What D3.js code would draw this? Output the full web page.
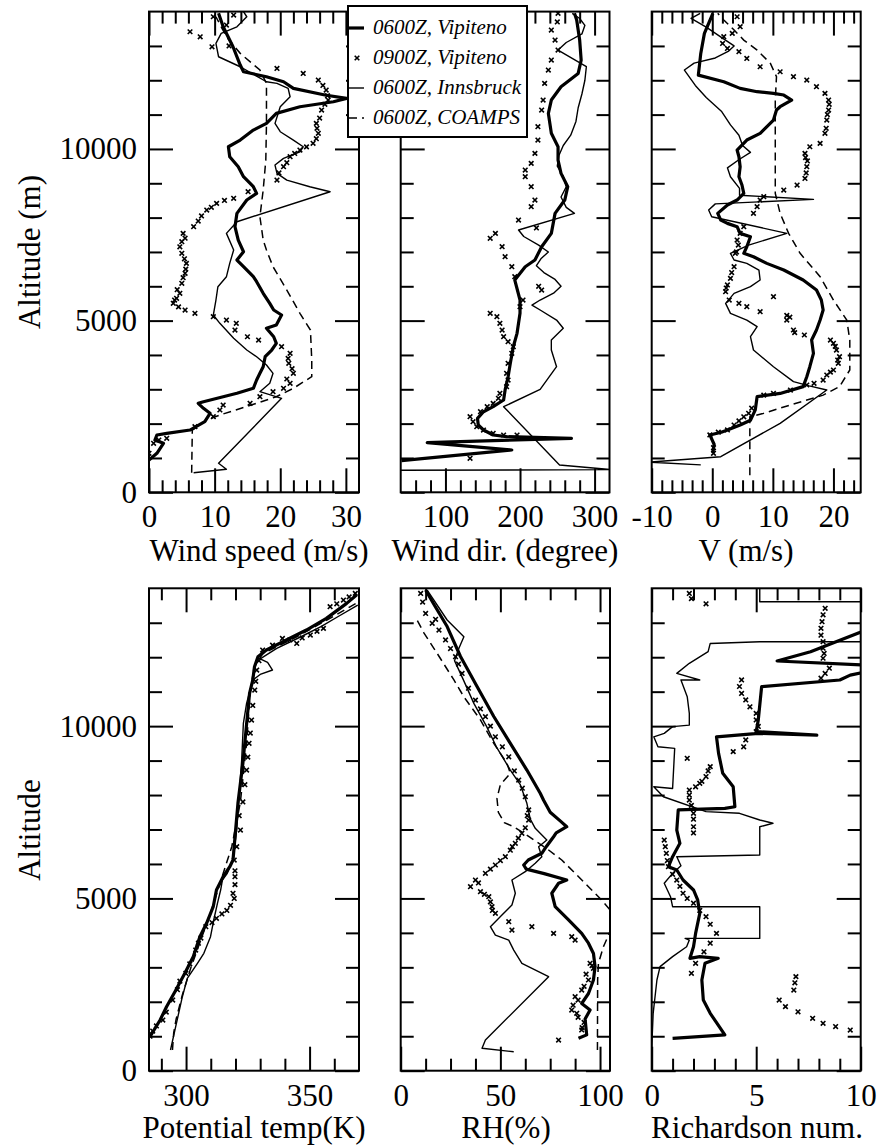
<!DOCTYPE html>
<html><head><meta charset="utf-8">
<script src="https://cdn.jsdelivr.net/npm/d3@7"></script>
<style>
html,body{margin:0;padding:0;background:#fff;}
svg{display:block;}
svg text{font-family:'Liberation Serif','Times New Roman',Times,serif;}
</style></head><body>
<svg id="chart" width="880" height="1148"></svg>
<script>
// ---------- tick labels ----------
const altMajor = [0, 5000, 10000];
const altMinor = [1000,2000,3000,4000,6000,7000,8000,9000,11000,12000,13000];
const altLabels = ["0", "5000", "10000"];
const wsTicks = [0,10,20,30];        const wsLabels = ["0","10","20","30"];
const wdTicks = [100,200,300];       const wdLabels = ["100","200","300"];
const vTicks = [-10,0,10,20];        const vLabels = ["-10","0","10","20"];
const thTicks = [300,350];           const thLabels = ["300","350"];
const rhTicks = [0,50,100];          const rhLabels = ["0","50","100"];
const riTicks = [0,5,10];            const riLabels = ["0","5","10"];
const legendLabels = ["0600Z, Vipiteno","0900Z, Vipiteno","0600Z, Innsbruck","0600Z, COAMPS"];

// ---------- data: [value, altitude(m)] ----------
// Wind speed (m/s)
const wsVip06 = [[0,940],[1.2,1135],[2.2,1427],[0.9,1523],[1.2,1668],[2.7,1718],[6.25,1814],[7.3,1930],[8.5,2056],[9.3,2300],[8.3,2446],[7.5,2592],[8.3,2638],[13.4,2883],[15.9,3029],[16.4,3270],[16.9,3465],[17.4,3658],[17.7,3949],[18.7,4144],[19.4,4339],[19,4531],[17.9,4776],[19.4,4872],[20.2,5163],[19,5309],[18.4,5504],[17.4,5795],[16.4,6133],[15.9,6279],[14.4,6570],[13.4,6765],[14.4,7006],[13.6,7347],[13.1,7735],[13.4,8124],[14.9,8512],[16.4,8707],[15.9,8900],[14.4,9191],[13.6,9482],[12.3,9773],[12.1,10064],[13.9,10259],[15.9,10550],[17.9,10745],[19.4,11036],[23,11230],[28.1,11375],[30.1,11472],[26.8,11570],[22,11764],[20.5,11957],[17.9,12103],[14.4,12248],[13.9,12443],[12.8,12976],[11.3,13558],[10.6,13950]];
const wsVip09 = [[0,1135],[0.7,1427],[1.5,1523],[2.7,1571],[7,1911],[9.8,2202],[10.8,2397],[11.3,2542],[15.4,2592],[16.9,2784],[18.9,2930],[20.5,3029],[21.5,3174],[21,3300],[22,3465],[21.8,3600],[21.3,3757],[21.2,3900],[21.5,4048],[20.2,4240],[16.7,4435],[15,4530],[13.1,4726],[13.3,4921],[11.8,5017],[9.8,5114],[7,5212],[5.5,5309],[4.5,5400],[3.7,5504],[3.9,5600],[4.2,5650],[4.7,5795],[4.3,5900],[5,6086],[5.2,6250],[5.5,6377],[5.6,6500],[5.7,6667],[5.4,6800],[5,6960],[4.7,7150],[5,7300],[5.5,7400],[5.2,7541],[6.8,7735],[7.5,7900],[8,8050],[8.8,8221],[9.5,8300],[10.3,8415],[11.5,8500],[12.9,8561],[15.1,8754],[19.5,9094],[19.8,9300],[20.5,9482],[21,9600],[21.5,9773],[22.2,9870],[23,9968],[24,10060],[25,10163],[25.5,10300],[25.8,10455],[25.6,10600],[25.5,10745],[26,10900],[26.3,11133],[26.8,11300],[27.3,11424],[27.2,11550],[27,11715],[26.5,11850],[25.8,12006],[23.5,12200],[19.5,12346],[9.6,12976],[12.2,13000],[7.8,13267],[6.25,13413],[11.8,13607],[9.8,13850],[12.9,13900]];
const wsInn06 = [[6.8,571],[11.8,670],[10.6,845],[20.2,2737],[16.9,2930],[18.4,3174],[18.9,3465],[17.9,3707],[16.4,3949],[14.9,4144],[12.9,4484],[10.8,4921],[9.8,5163],[10.2,5600],[10.5,5988],[11.8,6279],[12.3,6667],[12.9,7056],[11.8,7541],[13.4,7880],[27.6,8754],[24.5,8900],[21,9094],[19.5,9289],[19.2,9531],[20.5,9726],[23,9918],[23.5,10064],[22,10259],[20,10501],[19.2,10745],[20,11230],[21.5,11521],[21.2,11764],[19.5,11910],[17.9,11957],[13.9,12394],[10.6,12685],[10.2,13073],[11,13364],[13.4,13558],[14.9,13850],[14.4,14000]];
const wsCoamps = [[6.5,571],[6.6,1814],[8.8,2105],[10.8,2251],[16.4,2592],[19.4,2784],[22,3029],[24.8,3367],[24.8,3853],[24.6,4726],[23,5212],[21,5891],[18.9,6570],[17.9,7056],[17.4,7347],[16.9,8026],[17.4,8803],[17.8,9677],[17.9,10745],[17.9,11910],[16.9,12298],[13.9,12784],[11.8,13267],[10.2,13850]];

// Wind direction (degree)
const wdVip06 = [[41,920],[189,1232],[75.6,1444],[269,1573],[182,1620],[164,1669],[151,1814],[144,1960],[143,2155],[151,2347],[164,2493],[178,2688],[180,2979],[184,3366],[187,3757],[191,4240],[196,4630],[200,5212],[200,5600],[193,6182],[207,6570],[220,6765],[229,7152],[242,7541],[247,8124],[260,8512],[264,8900],[255,9289],[251,9677],[251,10064],[242,10455],[238,11036],[242,11424],[255,11811],[278,12200],[282,12589],[280,13171],[276,13754],[273,13950]];
const wdVip09 = [[133,990],[196,1669],[178,1669],[164,1718],[151,1814],[142,1911],[137,2056],[133,2202],[147,2347],[156,2493],[164,2590],[171,2737],[173,2883],[182,3076],[184,3270],[182,3465],[184,3757],[189,4048],[191,4240],[184,4386],[178,4531],[176,4726],[173,4921],[169,5114],[160,5212],[200,5406],[204,5600],[229,5891],[225,6000],[193,6279],[189,6570],[180,6861],[176,7152],[160,7397],[167,7541],[222,7700],[198,7929],[215,8318],[220,8512],[215,8900],[207,9191],[207,9386],[215,9580],[220,9871],[224,10259],[224,10648],[229,11133],[231,11424],[233,11910],[238,12298],[242,12589],[251,12880],[247,13171],[242,13462],[250,13700],[251,13950]];
const wdInn06 = [[20,640],[322,660],[253,795],[178,2493],[227,2999],[249,3658],[242,4144],[242,4435],[258,4776],[249,5017],[227,5309],[216,5454],[227,5600],[245,5800],[255,6000],[247,6200],[232,6400],[222,6600],[228,6800],[238,7000],[225,7200],[205,7450],[198,7640],[273,8124],[262,8300],[255,8600],[262,8900],[258,9200],[250,9500],[252,9800],[258,10100],[268,10400],[275,10800],[278,11200],[283,11600],[287,12000],[289,12400],[251,12880],[262,13100],[283,13350],[287,13600],[280,13800],[270,13950]];

// V (m/s)
const vVip06 = [[0.1,1135],[0.3,1400],[-0.4,1670],[1.5,1750],[2.5,1815],[4.6,1960],[6.3,2100],[7.1,2400],[7.4,2785],[11.2,2880],[15,3077],[15.6,3367],[16.1,3658],[16.7,4047],[16.4,4435],[17.2,4727],[17.8,5017],[18.3,5309],[18,5600],[17.2,5891],[15,6182],[11.8,6473],[9,6667],[6.8,6861],[5.2,6960],[5.7,7152],[6.3,7444],[4.6,7541],[4.1,7735],[2.5,7832],[1.4,7929],[0.9,8124],[2.5,8367],[4.1,8512],[5.2,8707],[4.9,8949],[4.4,9191],[4.6,9482],[4.4,9773],[4.1,9968],[5.7,10259],[7.9,10455],[10.1,10841],[10.6,11133],[11.2,11230],[13.1,11424],[11.8,11570],[10.1,11618],[7.4,11667],[4.6,11764],[1.9,11957],[-2.3,12151],[-1.9,12782],[-1.3,13366],[0.1,13950]];
const vVip09 = [[0.2,1135],[0.2,1300],[-0.4,1670],[1,1750],[2.5,1815],[3.6,1960],[4.4,2080],[5.2,2200],[6,2300],[6.5,2450],[8.5,2830],[10.1,2880],[12.9,2979],[15.6,3125],[16.8,3174],[18.3,3270],[18.9,3416],[19.5,3500],[20,3562],[20.8,3757],[20.7,3850],[21,3950],[20.5,4144],[20.3,4250],[20,4338],[19.5,4435],[15.2,4581],[13.6,4650],[13.4,4727],[12.3,5017],[12.8,5100],[12.3,5150],[7.9,5260],[5.7,5406],[4.4,5503],[2.8,5600],[10.1,5697],[2.2,5843],[2.3,5950],[2.5,6040],[3,6230],[3.2,6400],[3.6,6570],[3.8,6960],[4,7000],[4.3,7200],[4.1,7347],[4.6,7541],[5.2,7735],[6.8,8124],[7.4,8318],[7.9,8512],[8.5,8610],[11.8,8803],[14,8949],[15.3,9142],[15.5,9300],[15.6,9482],[15.7,9650],[15.4,9750],[15.3,9871],[16.1,10064],[17.8,10162],[18.6,10455],[18.8,10600],[18.9,10841],[19,11000],[19.2,11133],[19.3,11300],[19.2,11424],[18.6,11618],[17.2,11813],[15.6,12006],[13.4,12103],[11.2,12248],[7.9,12394],[5.7,12637],[4.4,12832],[2.5,12928],[1.7,13074],[1.9,13268],[3.3,13366],[4.6,13560],[4.1,13850]];
const vInn06 = [[-1.9,800],[-10.5,878],[1.4,1037],[11.2,2008],[18.9,2979],[16,3100],[13.4,3222],[10.1,3658],[6.8,4144],[6.3,4532],[7.4,4824],[5.7,5017],[3,5212],[2.2,5503],[3.6,5794],[6.3,5988],[7.9,6182],[7.7,6473],[5.7,6667],[3.6,6765],[3,6960],[6,7200],[12.3,7541],[-0.1,8026],[-0.6,8221],[0.5,8400],[16.7,8532],[4.5,8650],[4.5,8850],[3,9191],[2.5,9450],[4.5,9700],[6.3,9900],[5,10100],[4.4,10400],[3,10700],[1.5,11100],[-1,11500],[-2.8,11850],[-4.6,12298],[-3,12500],[0.5,12650],[2.7,12850],[3.6,13000],[1.5,13250],[-1,13550],[-3.5,13800],[-2,13950]];
const vCoamps = [[6.2,500],[6.2,2200],[8.5,2300],[12.9,2545],[18.3,2830],[21,3077],[22.7,3562],[22.7,4435],[22.2,5017],[20,5600],[17.8,6280],[14.5,6960],[12.6,7541],[11.2,8124],[10.4,8707],[10.4,9968],[10.4,11424],[10.6,12103],[9.6,12491],[7.4,12880],[5.2,13171],[3.6,13462],[1.9,13754],[0.9,13950]];

// Potential temperature (K)
const thVip06 = [[285.4,987],[289.5,1471],[292.1,1857],[295.5,2292],[299.5,2826],[302.9,3308],[305.6,3889],[308.3,4277],[311,4759],[312.3,5244],[315,5630],[317.7,5920],[319,6114],[321,7760],[323,8921],[324.4,9983],[325.7,10952],[327,11338],[327.7,11724],[329.1,12014],[332.5,12208],[339.2,12449],[348.7,12789],[356.8,13128],[365,13563],[369,13804]];
const thVip09 = [[285.4,1000],[286.5,1150],[288,1300],[290.6,1471],[292,1700],[294.6,2050],[296.5,2350],[297.5,2600],[299.9,2826],[301.5,3100],[303.9,3500],[305,3700],[306,3850],[308,4180],[310.5,4300],[312.3,4422],[314.5,4550],[316.5,4650],[318,4800],[319.5,5000],[319,5148],[319.8,5400],[319.8,5630],[319.8,5800],[319.5,6114],[320.5,6500],[322,6985],[321.5,7400],[323,7800],[323.8,8300],[324.5,8726],[325,9100],[325.5,9500],[326,9800],[326.5,10177],[327,10600],[327.8,11048],[328.2,11300],[328.6,11628],[329.5,11900],[331,12208],[335,12350],[344.8,12401],[342,12500],[339,12546],[347,12560],[350.3,12643],[353,12750],[355.6,12837],[358.3,13466],[361,13550],[363.7,13660],[366,13750],[368.5,13853]];
const thInn06 = [[293.7,601],[295.8,1277],[298.5,2147],[300.5,2681],[304.6,3117],[307.2,3407],[309.9,3889],[311.2,4373],[312.7,4858],[314,5244],[314.7,5534],[316.7,5728],[319,6114],[320.5,7000],[321.5,8000],[322.5,9000],[323.2,10081],[324.5,10662],[327,11338],[330,11500],[335,11628],[333,11850],[330,11950],[336.7,12257],[346.5,12594],[354.6,12885],[361.4,13175],[369.5,13514]];
const thCoamps = [[294.5,600],[295,1100],[296,1500],[298.5,2200],[302,3000],[306,3800],[310,4600],[314,5500],[318.5,6500],[322,7800],[324.5,9500],[326,11000],[327.5,11700],[331,12100],[345,12600],[360,13200],[371,13650]];

// Relative humidity (%)
const rhVip06 = [[89.2,940],[93.3,1040],[92.5,1500],[95,1760],[90.8,1950],[94.2,2240],[96.7,2632],[97.5,3020],[96.7,3400],[94.2,3700],[90.8,3985],[84.2,4375],[77.5,4760],[75.8,5150],[79.2,5440],[83.3,5534],[72,5720],[63,5850],[61.7,5970],[64,6115],[70.8,6310],[73,6500],[76.7,6790],[78,6900],[83.3,7080],[80,7250],[75,7500],[71.7,7850],[70,8050],[63.3,8725],[55,9500],[46.7,10280],[38.3,11150],[30,12020],[23.3,12890],[17,13500],[12.5,13950]];
const rhVip09 = [[79.2,890],[90.8,1181],[91,1250],[92,1400],[89,1550],[88.3,1665],[85.8,1760],[86.5,1900],[89,2050],[87.5,2147],[90.8,2340],[92,2450],[94.2,2632],[93,2800],[96.7,2970],[96,3050],[95,3117],[87.5,3790],[85.8,3890],[76.7,3985],[65.8,4180],[55.8,4083],[54.2,4325],[47.5,4568],[46,4650],[45.8,4760],[45,4900],[44.2,5049],[42,5120],[40,5195],[35,5340],[39,5450],[37.5,5534],[42.5,5728],[45,5850],[47.5,5970],[50,6100],[52.5,6210],[55,6400],[56,6500],[57.5,6600],[59,6750],[60.8,6890],[62.5,7050],[64.2,7275],[63.5,7400],[64.2,7570],[62.5,7951],[61,8200],[59.2,8436],[57,8700],[54.2,9110],[51,9400],[47.5,9690],[45,10000],[42.5,10275],[40,10500],[37.5,10755],[34,11100],[30.8,11530],[29,11800],[27.5,12015],[25,12250],[22.5,12500],[19.2,12789],[15.8,12983],[17.5,13100],[12.5,13271],[11,13600],[10,13850]];
const rhInn06 = [[56.7,550],[40.8,650],[42.5,890],[74.2,2730],[60.8,3117],[56.7,3500],[54.2,3790],[47.5,3935],[45,4180],[50.8,4520],[55.8,4810],[57.5,5150],[55.8,5534],[62.5,5775],[67.5,6019],[70.8,6210],[69.2,6500],[73.3,6695],[67.5,7033],[65,7300],[63.3,7760],[60,8300],[55,8725],[48,9400],[43,10000],[36.7,10660],[31,11400],[27,11900],[29.2,12260],[31.7,12595],[23.3,13080],[13.3,13950]];
const rhCoamps = [[98.7,600],[98.8,2632],[99.2,3117],[101.7,3598],[105,4035],[106,4300],[105,4665],[100.8,4955],[94.2,5340],[87.5,5728],[80.8,6115],[74.2,6405],[64.2,6800],[56.7,7080],[52,7200],[49,7500],[48.3,7900],[50,8300],[55,8630],[53.3,8920],[46.7,9500],[40,10180],[31.7,10850],[26.7,11340],[18.3,12110],[11.7,12700],[8,13100]];

// Richardson number
const riVip06 = [[1.0,940],[3.5,1040],[2.8,1665],[2.47,2050],[2.4,2632],[2.55,3117],[3.18,3262],[2.3,3310],[1.83,3262],[2.0,3598],[2.1,3985],[2.3,4568],[2.2,4955],[2.0,5245],[1.5,5534],[1.2,5825],[0.8,5920],[1.0,6210],[1.35,6600],[1.2,6985],[1.27,7570],[3.5,7615],[3.98,7660],[3.9,8240],[3.4,8630],[3.2,9210],[3.1,9690],[5.1,9790],[7.9,9740],[5.0,9840],[5.1,10180],[5.26,11145],[9.0,11338],[9.5,11480],[10.3,11580],[10.3,11770],[6.0,11890],[7.6,12160],[10.3,12800]];
const riVip09 = [[1.8,13850],[1.9,13700],[2.6,13550],[8.3,13420],[8.2,13230],[8.15,13030],[8.1,12840],[8.1,12640],[8.2,12450],[8.2,12260],[8.25,12110],[8.2,11970],[8.5,11680],[8.3,11530],[8.1,11390],[4.3,11340],[4.2,11150],[4.3,10950],[4.5,10760],[4.7,10560],[5.0,10370],[5.0,10180],[5.1,9990],[5.0,9840],[4.5,9600],[4.4,9400],[3.9,9260],[1.7,9065],[2.8,8825],[2.7,8700],[2.6,8535],[2.4,8400],[2.3,8340],[2.1,8240],[1.8,8145],[1.8,8000],[1.8,7855],[1.9,7700],[2.0,7470],[2.0,7300],[2.0,7080],[2.0,6900],[0.6,6695],[0.65,6500],[0.7,6310],[0.75,6100],[0.8,5920],[1.0,5700],[1.2,5534],[1.35,5350],[1.5,5150],[1.7,5000],[2.0,4860],[2.3,4650],[2.6,4470],[2.8,4250],[3.1,3985],[2.8,3700],[2.5,3450],[2.1,3117],[1.9,2825],[6.9,2730],[6.85,2550],[6.8,2340],[6.1,2050],[6.4,1860],[7.0,1710],[7.7,1520],[8.2,1375],[8.8,1280],[9.5,1180]];
const riInn06 = [[0,640],[0.07,1665],[0.25,2632],[0.4,3020],[1.0,3310],[1.67,3598],[1.8,3790],[1.6,3840],[5.17,3840],[5.17,4760],[1.0,4760],[0.9,5049],[0.6,5440],[1.0,5728],[1.4,5950],[1.2,6210],[5.17,6260],[5.17,7080],[5.8,7180],[5.17,7275],[4.2,7470],[2.6,7520],[0.56,7950],[0.1,8240],[1.0,8190],[1.1,9355],[0.3,9400],[0.1,9690],[0.6,9790],[1.0,9985],[1.8,10030],[1.8,10372],[1.7,10855],[1.4,11338],[2.3,11338],[1.2,11530],[1.8,11823],[2.7,12160],[2.8,12400],[5.17,12450],[12,12450],[12,13610],[5.17,13610],[5.17,14200]];

// ---------- drawing ----------
const FONT = "'Liberation Serif','Times New Roman',Times,serif";
const svg = d3.select("#chart");
const defs = svg.append("defs");
const rows = [[492.3, 11.6], [1070.7, 588.3]];

const panels = [
  {id:1,row:0,xr:[149,359],dom:[0,32],major:wsTicks,labels:wsLabels,minor:d3.range(2,32,2).filter(v=>v%10),thick:wsVip06,dots:wsVip09,thin:wsInn06,dash:wsCoamps,ylab:true,title:"Wind speed (m/s)",tx:259},
  {id:2,row:0,xr:[400.7,609.5],dom:[40,320],major:wdTicks,labels:wdLabels,minor:[60,80,120,140,160,180,220,240,260,280],thick:wdVip06,dots:wdVip09,thin:wdInn06,dash:null,ylab:false,title:"Wind dir. (degree)",tx:505},
  {id:3,row:0,xr:[651.7,860.7],dom:[-10,24.5],major:vTicks,labels:vLabels,minor:d3.range(1,21).map(i=>-10+i*10/6).filter(v=>Math.abs(v/10-Math.round(v/10))>0.01 && v<24.5),thick:vVip06,dots:vVip09,thin:vInn06,dash:vCoamps,ylab:false,title:"V  (m/s)",tx:746},
  {id:4,row:1,xr:[149,359],dom:[285,370],major:thTicks,labels:thLabels,minor:[290,310,320,330,340,360],thick:thVip06,dots:thVip09,thin:thInn06,dash:thCoamps,ylab:true,title:"Potential temp(K)",tx:254},
  {id:5,row:1,xr:[400.7,610],dom:[0,105],major:rhTicks,labels:rhLabels,minor:[12.5,25,37.5,62.5,75,87.5],thick:rhVip06,dots:rhVip09,thin:rhInn06,dash:rhCoamps,ylab:false,title:"RH(%)",tx:506},
  {id:6,row:1,xr:[651.7,860.7],dom:[0,10],major:riTicks,labels:riLabels,minor:[1,2,3,4,6,7,8,9],thick:riVip06,dots:riVip09,thin:riInn06,dash:null,ylab:false,title:"Richardson num.",tx:757}
];

function styleAxis(sel, fs){
  sel.select(".domain").remove();
  sel.attr("font-family", FONT).attr("font-size", fs).attr("color","#000");
  sel.selectAll("line").attr("stroke-width", 2);
}

panels.forEach(p => {
  const yr = rows[p.row];
  const x = d3.scaleLinear().domain(p.dom).range(p.xr);
  const y = d3.scaleLinear().domain([0,14000]).range(yr);
  const g = svg.append("g");
  const cid = "clip" + p.id;
  defs.append("clipPath").attr("id", cid).append("rect")
    .attr("x", p.xr[0]).attr("y", yr[1]).attr("width", p.xr[1]-p.xr[0]).attr("height", yr[0]-yr[1]);
  const dg = g.append("g").attr("clip-path", `url(#${cid})`);
  const line = d3.line().x(d => x(d[0])).y(d => y(d[1]));
  if (p.dash) dg.append("path").attr("d", line(p.dash)).attr("fill","none").attr("stroke","#000").attr("stroke-width",1.5).attr("stroke-dasharray","8,5");
  if (p.thin) dg.append("path").attr("d", line(p.thin)).attr("fill","none").attr("stroke","#000").attr("stroke-width",1.4).attr("stroke-linejoin","round");
  if (p.thick) dg.append("path").attr("d", line(p.thick)).attr("fill","none").attr("stroke","#000").attr("stroke-width",3.2).attr("stroke-linejoin","round");
  if (p.dots) dg.selectAll(null).data(p.dots).join("path")
    .attr("transform", d => `translate(${x(d[0])},${y(d[1])})`)
    .attr("d","M-2.3,-2.3L2.3,2.3M-2.3,2.3L2.3,-2.3").attr("stroke","#000").attr("stroke-width",1.6);

  const bMaj = g.append("g").attr("transform",`translate(0,${yr[0]})`)
    .call(d3.axisBottom(x).tickValues(p.major).tickSize(-24).tickPadding(13).tickFormat(d => p.labels[p.major.indexOf(d)]));
  styleAxis(bMaj, 31);
  const bMin = g.append("g").attr("transform",`translate(0,${yr[0]})`)
    .call(d3.axisBottom(x).tickValues(p.minor).tickSize(-12).tickFormat(""));
  styleAxis(bMin, 31);
  const tMaj = g.append("g").attr("transform",`translate(0,${yr[1]})`)
    .call(d3.axisTop(x).tickValues(p.major).tickSize(-24).tickFormat(""));
  styleAxis(tMaj, 31);
  const tMin = g.append("g").attr("transform",`translate(0,${yr[1]})`)
    .call(d3.axisTop(x).tickValues(p.minor).tickSize(-12).tickFormat(""));
  styleAxis(tMin, 31);
  const lMaj = g.append("g").attr("transform",`translate(${p.xr[0]},0)`)
    .call(d3.axisLeft(y).tickValues(altMajor).tickSize(-24).tickPadding(12)
      .tickFormat(d => p.ylab ? altLabels[altMajor.indexOf(d)] : ""));
  styleAxis(lMaj, 31);
  const lMin = g.append("g").attr("transform",`translate(${p.xr[0]},0)`)
    .call(d3.axisLeft(y).tickValues(altMinor).tickSize(-13).tickFormat(""));
  styleAxis(lMin, 31);
  const rMaj = g.append("g").attr("transform",`translate(${p.xr[1]},0)`)
    .call(d3.axisRight(y).tickValues(altMajor).tickSize(-24).tickFormat(""));
  styleAxis(rMaj, 31);
  const rMin = g.append("g").attr("transform",`translate(${p.xr[1]},0)`)
    .call(d3.axisRight(y).tickValues(altMinor).tickSize(-13).tickFormat(""));
  styleAxis(rMin, 31);

  g.append("rect").attr("x",p.xr[0]).attr("y",yr[1]).attr("width",p.xr[1]-p.xr[0]).attr("height",yr[0]-yr[1])
    .attr("fill","none").attr("stroke","#000").attr("stroke-width",2);

  g.append("text").attr("x", p.tx).attr("y", p.row===0 ? 561 : 1138)
    .attr("text-anchor","middle").attr("font-family",FONT).attr("font-size",31).text(p.title);
});

svg.append("text").attr("transform","translate(40,252) rotate(-90)").attr("text-anchor","middle")
  .attr("font-family",FONT).attr("font-size",31).text("Altitude (m)");
svg.append("text").attr("transform","translate(40,830) rotate(-90)").attr("text-anchor","middle")
  .attr("font-family",FONT).attr("font-size",31).text("Altitude");

const lg = svg.append("g");
lg.append("rect").attr("x",348).attr("y",6).attr("width",179).attr("height",131)
  .attr("fill","#fff").attr("stroke","#000").attr("stroke-width",2);
const legStyles = [
  {w:3.2, dash:null, marker:false},
  {w:0, dash:null, marker:true},
  {w:1.4, dash:null, marker:false},
  {w:1.5, dash:"8,5", marker:false}
];
legendLabels.forEach((t,i) => {
  const cy = 28 + i*30;
  const s = legStyles[i];
  if (s.marker) {
    lg.append("path").attr("transform",`translate(357,${cy})`).attr("d","M-2.3,-2.3L2.3,2.3M-2.3,2.3L2.3,-2.3")
      .attr("stroke","#000").attr("stroke-width",1.6);
  } else {
    const l = lg.append("line").attr("x1",349).attr("x2",364).attr("y1",cy).attr("y2",cy)
      .attr("stroke","#000").attr("stroke-width",s.w);
    if (s.dash) l.attr("stroke-dasharray", s.dash);
  }
  lg.append("text").attr("x",373).attr("y",cy+6).attr("font-family",FONT).attr("font-style","italic")
    .attr("font-size",21).text(t);
});
</script>
</body></html>
